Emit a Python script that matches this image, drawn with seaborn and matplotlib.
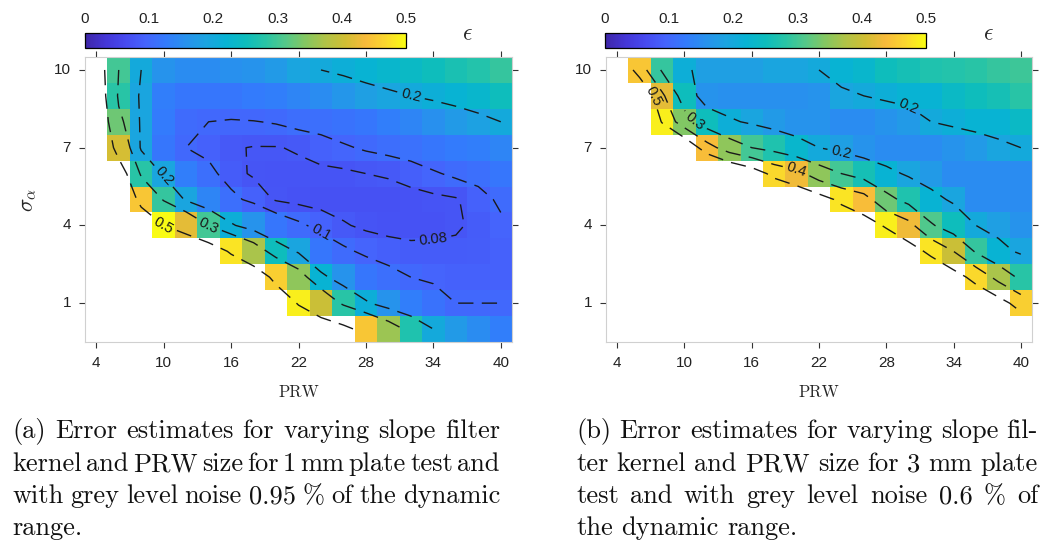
import numpy as np
import pandas as pd
import matplotlib
matplotlib.use("Agg")
import matplotlib.pyplot as plt
import seaborn as sns
from matplotlib.colors import LinearSegmentedColormap

# ---------------- data ----------------
PRW = [4, 6, 8, 10, 12, 14, 16, 18, 20, 22, 24, 26, 28, 30, 32, 34, 36, 38, 40]
SIGMA = [10, 9, 8, 7, 6, 5, 4, 3, 2, 1, 0]
X_TICKS = [4, 10, 16, 22, 28, 34, 40]
Y_TICKS = [10, 7, 4, 1]
CBAR_TICKS = [0, 0.1, 0.2, 0.3, 0.4, 0.5]
LEFT_LEVELS = [0.08, 0.1, 0.2, 0.3, 0.5]
RIGHT_LEVELS = [0.2, 0.3, 0.4, 0.5]

# error estimates (values above 0.5 are out of range and left blank)
LEFT_ROWS = [
    [0.62, 0.30, 0.20, 0.16, 0.15, 0.15, 0.155, 0.16, 0.17, 0.19, 0.20, 0.21, 0.22, 0.23, 0.24, 0.25, 0.265, 0.275, 0.29],
    [0.66, 0.28, 0.19, 0.13, 0.12, 0.12, 0.12, 0.125, 0.13, 0.14, 0.15, 0.165, 0.18, 0.19, 0.20, 0.21, 0.22, 0.23, 0.25],
    [0.70, 0.33, 0.19, 0.125, 0.105, 0.10, 0.098, 0.099, 0.102, 0.108, 0.11, 0.115, 0.12, 0.13, 0.14, 0.155, 0.17, 0.185, 0.20],
    [0.80, 0.41, 0.19, 0.12, 0.10, 0.09, 0.082, 0.079, 0.079, 0.082, 0.09, 0.097, 0.103, 0.108, 0.113, 0.12, 0.125, 0.13, 0.14],
    [0.90, 0.62, 0.28, 0.19, 0.13, 0.11, 0.085, 0.078, 0.075, 0.075, 0.075, 0.076, 0.08, 0.082, 0.088, 0.097, 0.105, 0.11, 0.12],
    [1.00, 0.70, 0.45, 0.29, 0.19, 0.14, 0.11, 0.09, 0.078, 0.074, 0.072, 0.071, 0.071, 0.072, 0.073, 0.075, 0.078, 0.09, 0.105],
    [1.00, 0.85, 0.62, 0.50, 0.42, 0.30, 0.21, 0.16, 0.12, 0.105, 0.092, 0.082, 0.076, 0.074, 0.073, 0.074, 0.077, 0.085, 0.095],
    [1.00, 1.00, 0.85, 0.72, 0.66, 0.60, 0.48, 0.37, 0.25, 0.19, 0.12, 0.105, 0.095, 0.088, 0.085, 0.085, 0.085, 0.086, 0.09],
    [1.00, 1.00, 1.00, 0.90, 0.80, 0.72, 0.66, 0.60, 0.46, 0.35, 0.22, 0.16, 0.12, 0.11, 0.10, 0.095, 0.09, 0.09, 0.09],
    [1.00, 1.00, 1.00, 1.00, 0.90, 0.82, 0.74, 0.66, 0.60, 0.49, 0.40, 0.28, 0.21, 0.16, 0.13, 0.115, 0.10, 0.10, 0.10],
    [1.00, 1.00, 1.00, 1.00, 1.00, 0.92, 0.84, 0.76, 0.68, 0.62, 0.58, 0.54, 0.45, 0.36, 0.27, 0.20, 0.17, 0.15, 0.13],
]

RIGHT_ROWS = [
    [0.62, 0.45, 0.29, 0.21, 0.18, 0.18, 0.18, 0.19, 0.19, 0.20, 0.22, 0.23, 0.25, 0.26, 0.27, 0.275, 0.28, 0.29, 0.295],
    [0.80, 0.62, 0.42, 0.25, 0.16, 0.155, 0.155, 0.155, 0.155, 0.16, 0.19, 0.20, 0.21, 0.22, 0.22, 0.24, 0.25, 0.26, 0.28],
    [1.00, 0.75, 0.49, 0.34, 0.25, 0.21, 0.19, 0.17, 0.16, 0.16, 0.15, 0.15, 0.16, 0.17, 0.20, 0.21, 0.22, 0.22, 0.24],
    [1.00, 0.90, 0.72, 0.60, 0.44, 0.35, 0.30, 0.27, 0.23, 0.20, 0.18, 0.16, 0.15, 0.15, 0.15, 0.16, 0.17, 0.19, 0.20],
    [1.00, 1.00, 0.90, 0.80, 0.70, 0.62, 0.56, 0.47, 0.43, 0.35, 0.30, 0.26, 0.22, 0.19, 0.17, 0.15, 0.15, 0.15, 0.15],
    [1.00, 1.00, 1.00, 1.00, 0.90, 0.80, 0.72, 0.64, 0.58, 0.54, 0.48, 0.44, 0.33, 0.27, 0.22, 0.19, 0.15, 0.15, 0.15],
    [1.00, 1.00, 1.00, 1.00, 1.00, 1.00, 0.90, 0.80, 0.72, 0.64, 0.58, 0.54, 0.49, 0.43, 0.31, 0.25, 0.20, 0.18, 0.16],
    [1.00, 1.00, 1.00, 1.00, 1.00, 1.00, 1.00, 1.00, 0.90, 0.80, 0.72, 0.64, 0.58, 0.54, 0.48, 0.40, 0.29, 0.22, 0.19],
    [1.00, 1.00, 1.00, 1.00, 1.00, 1.00, 1.00, 1.00, 1.00, 1.00, 0.90, 0.80, 0.72, 0.64, 0.58, 0.54, 0.47, 0.37, 0.28],
    [1.00, 1.00, 1.00, 1.00, 1.00, 1.00, 1.00, 1.00, 1.00, 1.00, 1.00, 1.00, 0.90, 0.80, 0.72, 0.64, 0.58, 0.54, 0.46],
    [1.00, 1.00, 1.00, 1.00, 1.00, 1.00, 1.00, 1.00, 1.00, 1.00, 1.00, 1.00, 1.00, 1.00, 0.90, 0.80, 0.72, 0.64, 0.58],
]

LEFT_CAPTION = ["(a) Error estimates for varying slope filter",
                "kernel and PRW size for 1 mm plate test and",
                "with grey level noise 0.95 % of the dynamic",
                "range."]
RIGHT_CAPTION = ["(b) Error estimates for varying slope fil-",
                 "ter kernel and PRW size for 3 mm plate",
                 "test and with grey level noise 0.6 % of",
                 "the dynamic range."]

# ---------------- style ----------------
sns.set_theme(style="white")
plt.rcParams["font.family"] = ["Liberation Sans", "DejaVu Sans"]
plt.rcParams["mathtext.fontset"] = "cm"
plt.rcParams["lines.dashed_pattern"] = [11, 6]

parula = LinearSegmentedColormap.from_list("parula", [
    (0.0000, (0.2422, 0.1504, 0.6603)),
    (0.0625, (0.2650, 0.2100, 0.8400)),
    (0.1250, (0.2780, 0.2900, 0.9400)),
    (0.1875, (0.2700, 0.3900, 0.9900)),
    (0.2500, (0.2000, 0.4800, 0.9900)),
    (0.3125, (0.1540, 0.5700, 0.9300)),
    (0.3750, (0.1100, 0.6400, 0.8800)),
    (0.4375, (0.0300, 0.7000, 0.8300)),
    (0.5000, (0.0500, 0.7400, 0.7400)),
    (0.5625, (0.1600, 0.7700, 0.6500)),
    (0.6250, (0.3300, 0.7850, 0.5400)),
    (0.6875, (0.5200, 0.7800, 0.3800)),
    (0.7500, (0.6900, 0.7650, 0.2800)),
    (0.8125, (0.8200, 0.7450, 0.2000)),
    (0.8750, (0.9700, 0.7300, 0.2300)),
    (0.9375, (0.9800, 0.8400, 0.1800)),
    (1.0000, (0.9769, 0.9839, 0.0805)),
])

W, H = 1044, 541
fig = plt.figure(figsize=(W / 100, H / 100), dpi=100)


def fx(px):
    return px / W


def fy(py):
    return 1 - py / H


def panel(ax_px, cax_px, eps_px, rows, levels, ylabel):
    x0, y0, x1, y1 = ax_px
    ax = fig.add_axes([fx(x0), fy(y1), fx(x1 - x0), (y1 - y0) / H])
    c0, cy0, c1, cy1 = cax_px
    cax = fig.add_axes([fx(c0), fy(cy1), fx(c1 - c0), (cy1 - cy0) / H])
    Z = np.array(rows, dtype=float)
    df = pd.DataFrame(Z, index=SIGMA, columns=PRW)
    sns.heatmap(df, ax=ax, cmap=parula, vmin=0, vmax=0.5, mask=df > 0.5,
                cbar=True, cbar_ax=cax,
                cbar_kws={"orientation": "horizontal", "ticks": CBAR_TICKS})
    xc = np.arange(len(PRW)) + 0.5
    yc = np.arange(len(SIGMA)) + 0.5
    cs = ax.contour(xc, yc, Z, levels=levels, colors="k", linewidths=1.0,
                    linestyles="dashed")
    ax.clabel(cs, fmt="%g", fontsize=10.5, inline=True, inline_spacing=4)

    ax.set_xticks([PRW.index(v) + 0.5 for v in X_TICKS])
    ax.set_xticklabels([str(v) for v in X_TICKS], rotation=0)
    ax.set_yticks([SIGMA.index(v) + 0.5 for v in Y_TICKS])
    ax.set_yticklabels([str(v) for v in Y_TICKS], rotation=0)
    ax.tick_params(axis="both", which="both", direction="out", length=4,
                   width=0.8, color="#333333", labelsize=11,
                   labelcolor="#222222", top=True, right=True,
                   bottom=True, left=True, labeltop=False, labelright=False,
                   pad=6)
    for s in ax.spines.values():
        s.set_visible(True)
        s.set_color("#d0d0d0")
        s.set_linewidth(0.8)
    ax.set_xlabel("PRW", family="cmr10", fontsize=12, va="center")
    ax.xaxis.set_label_coords(0.5, -0.175)
    if ylabel:
        ax.set_ylabel(r"$\sigma_\alpha$", fontsize=16, rotation=90,
                      va="center")
        ax.yaxis.set_label_coords(-0.133, 0.5)
    else:
        ax.set_ylabel("")

    cax.xaxis.set_ticks_position("top")
    cax.xaxis.set_label_position("top")
    cax.tick_params(axis="x", direction="in", length=3, width=0.8,
                    color="#222222", labelsize=11, pad=5,
                    labelcolor="#222222", top=True, bottom=False)
    cax.set_xticklabels(["0", "0.1", "0.2", "0.3", "0.4", "0.5"])
    cb = ax.collections[0].colorbar
    cb.outline.set_edgecolor("black")
    cb.outline.set_linewidth(0.9)
    cb.outline.set_visible(True)
    fig.text(fx(eps_px[0]), fy(eps_px[1]), r"$\epsilon$", fontsize=17,
             ha="center", va="center")
    return ax


panel((85, 57, 512, 342), (85, 33, 406, 48), (467, 34), LEFT_ROWS,
      LEFT_LEVELS, True)
panel((606, 57, 1032, 342), (605, 33, 926, 48), (988, 34), RIGHT_ROWS,
      RIGHT_LEVELS, False)

# ---------------- justified captions ----------------
renderer = fig.canvas.get_renderer()


def caption(lines, x0, x1, baselines, fs):
    space = fs * 100 / 72 * 0.333
    for i, line in enumerate(lines):
        words = line.split(" ")
        texts = [fig.text(0, fy(baselines[i]), w, family="cmr10",
                          fontsize=fs, va="baseline", ha="left",
                          color="#111111") for w in words]
        widths = [t.get_window_extent(renderer).width for t in texts]
        if i < len(lines) - 1 and len(words) > 1:
            gap = (x1 - x0 - sum(widths)) / (len(words) - 1)
        else:
            gap = space
        x = x0
        for t, w in zip(texts, widths):
            t.set_x(fx(x))
            x += w + gap


caption(LEFT_CAPTION, 12, 500, [438, 471, 503, 535], 19)
caption(RIGHT_CAPTION, 576, 1038, [438, 471, 503, 535], 19)

fig.savefig("out.png", dpi=100)
